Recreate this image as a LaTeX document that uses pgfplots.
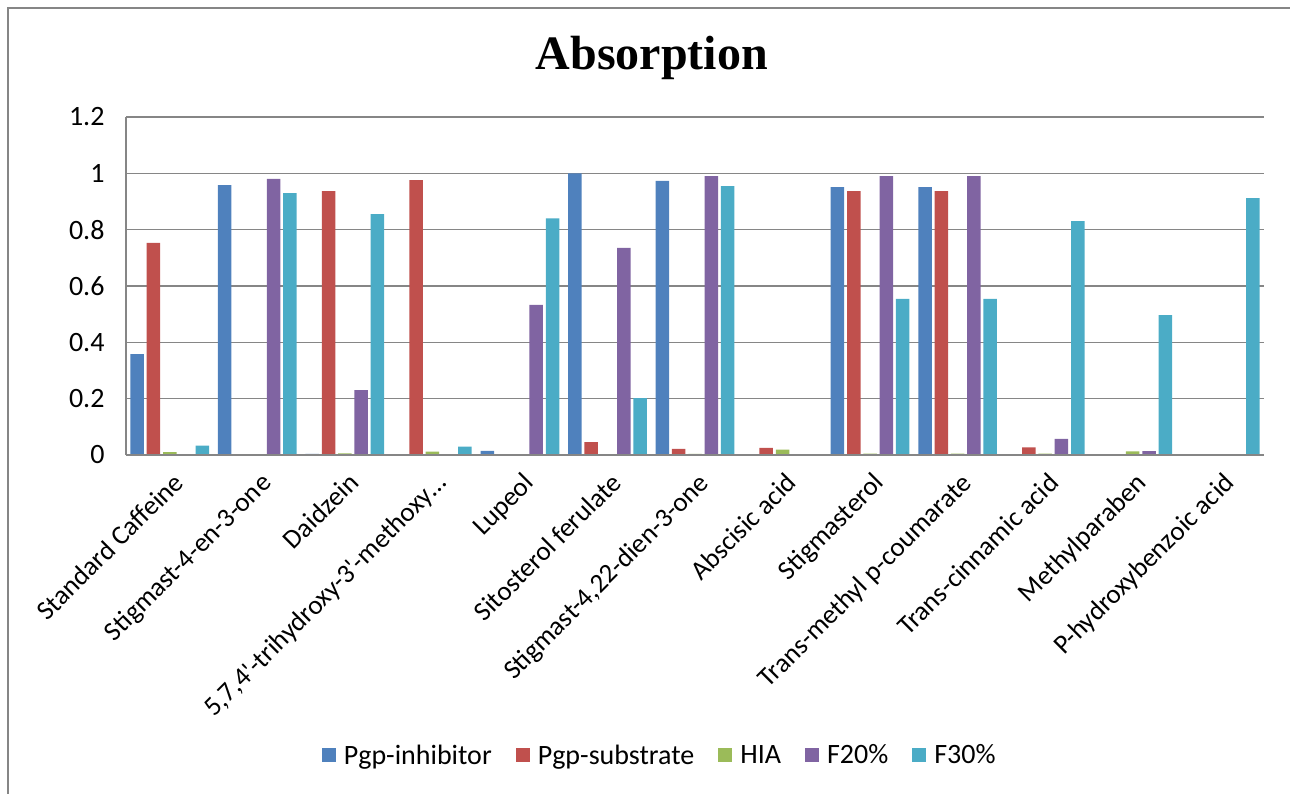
\documentclass[border=0pt]{standalone}
\usepackage{pgfplots}
\usepackage{pgfplotstable}
\pgfplotsset{compat=1.18}
\usepackage{fontspec}
\setmainfont{Carlito}
\newfontfamily\titlefont{Liberation Serif}
\definecolor{cA}{HTML}{4F81BD}
\definecolor{cB}{HTML}{C0504D}
\definecolor{cC}{HTML}{9BBB59}
\definecolor{cD}{HTML}{8064A2}
\definecolor{cE}{HTML}{4BACC6}
\definecolor{gridc}{HTML}{868686}
\pgfplotstableread{
cat inh sub hia f20 f30
0 0.358 0.753 0.01 0 0.033
1 0.958 0 0 0.98 0.93
2 0.004 0.937 0.006 0.23 0.855
3 0.002 0.976 0.012 0.002 0.03
4 0.015 0 0 0.533 0.84
5 1.0 0.046 0 0.735 0.202
6 0.973 0.022 0.004 0.99 0.955
7 0 0.025 0.019 0 0
8 0.951 0.937 0.005 0.99 0.554
9 0.951 0.937 0.005 0.99 0.554
10 0 0.027 0.005 0.057 0.83
11 0 0.002 0.013 0.014 0.497
12 0 0 0.003 0 0.912
}\datatable
\begin{document}
\begin{tikzpicture}
\useasboundingbox (0pt,0pt) rectangle (1290pt,-794pt);
\draw[gridc, line width=2pt] (8pt,-794pt) -- (8pt,-8pt) -- (1290pt,-8pt);
\node[font=\titlefont\fontsize{48}{56}\selectfont\bfseries] at (652pt,-58pt) {Absorption};
\begin{axis}[
  at={(126pt,-455pt)}, anchor=south west,
  scale only axis, width=1138pt, height=338pt,
  xmin=-0.5, xmax=12.5, ymin=0, ymax=1.2,
  ytick={0,0.2,0.4,0.6,0.8,1,1.2},
  yticklabels={0,0.2,0.4,0.6,0.8,1,1.2},
  xtick={0,...,12},
  xticklabels={Standard Caffeine,Stigmast-4-en-3-one,Daidzein,5{,}7{,}4\textquotesingle-trihydroxy-3\textquotesingle-methoxy…,Lupeol,Sitosterol ferulate,Stigmast-4{,}22-dien-3-one,Abscisic acid,Stigmasterol,Trans-methyl p-coumarate,Trans-cinnamic acid,Methylparaben,P-hydroxybenzoic acid},
  major tick length=0pt,
  axis line style={draw=none},
  ymajorgrids, grid style={gridc, line width=1.5pt},
  ybar=2.8pt, bar width=13.5pt,
  yticklabel style={font=\fontsize{28}{32}\selectfont, xshift=-18pt},
  xticklabel style={font=\fontsize{27}{32}\selectfont, yshift=-16pt, xshift=2pt, rotate=45, anchor=north east, inner sep=0pt},
  legend style={at={(0.469,-0.888)}, anchor=center, draw=none, legend columns=-1,
    font=\fontsize{28}{32}\selectfont,
    /tikz/every odd column/.append style={column sep=6pt},
    /tikz/every even column/.append style={column sep=22pt}},
  legend image code/.code={\fill[#1] (0pt,-7pt) rectangle (14pt,7pt);},
  clip=false,
]
\addplot[fill=cA, draw=none] table[x=cat, y=inh] {\datatable};
\addplot[fill=cB, draw=none] table[x=cat, y=sub] {\datatable};
\addplot[fill=cC, draw=none] table[x=cat, y=hia] {\datatable};
\addplot[fill=cD, draw=none] table[x=cat, y=f20] {\datatable};
\addplot[fill=cE, draw=none] table[x=cat, y=f30] {\datatable};
\legend{Pgp-inhibitor,Pgp-substrate,HIA,F20\%,F30\%}
\draw[gridc, line width=1.5pt] (rel axis cs:0,0) -- (rel axis cs:0,1);
\draw[gridc, line width=2.5pt] (rel axis cs:0,0) -- (rel axis cs:1,0);
\end{axis}
\end{tikzpicture}
\end{document}
